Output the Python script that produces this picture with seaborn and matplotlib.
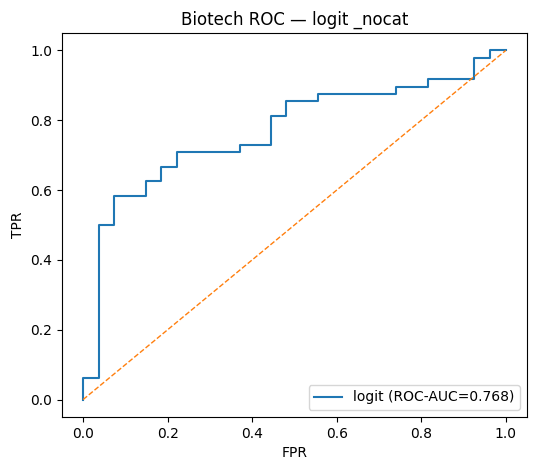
import matplotlib
matplotlib.use("Agg")

import matplotlib.pyplot as plt
import pandas as pd
import seaborn as sns

# ROC points (step corners)
fpr = [0.0, 0.0, 0.037, 0.037, 0.074, 0.074, 0.148, 0.148, 0.185, 0.185,
       0.222, 0.222, 0.370, 0.370, 0.444, 0.444, 0.481, 0.481, 0.556, 0.556,
       0.741, 0.741, 0.815, 0.815, 0.926, 0.926, 0.963, 0.963, 1.0]
tpr = [0.0, 0.0625, 0.0625, 0.5, 0.5, 0.583, 0.583, 0.625, 0.625, 0.667,
       0.667, 0.708, 0.708, 0.729, 0.729, 0.8125, 0.8125, 0.854, 0.854, 0.875,
       0.875, 0.896, 0.896, 0.917, 0.917, 0.979, 0.979, 1.0, 1.0]
auc = 0.768
title = "Biotech ROC — logit _nocat"

df = pd.DataFrame({"FPR": fpr, "TPR": tpr})

fig = plt.figure(figsize=(5.36, 4.70), dpi=100)
ax = fig.add_axes([0.1157, 0.1128, 0.8673, 0.817])

sns.lineplot(data=df, x="FPR", y="TPR", sort=False, estimator=None,
             color="C0", linewidth=1.5, label=f"logit (ROC-AUC={auc:.3f})", ax=ax)
ax.plot([0, 1], [0, 1], "--", color="C1", linewidth=1)

ax.set_title(title)
ax.set_xlabel("FPR")
ax.set_ylabel("TPR")
ax.legend(loc="lower right")

fig.savefig("out.png", dpi=100)
plt.close(fig)
